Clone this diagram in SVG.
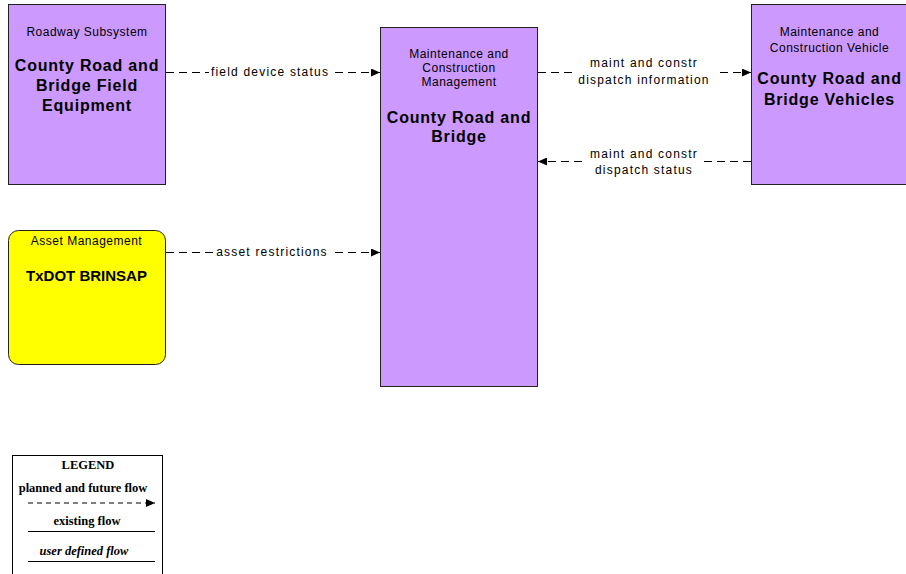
<svg xmlns="http://www.w3.org/2000/svg" width="906" height="574" viewBox="0 0 906 574">
<defs>
<marker id="arr" markerUnits="userSpaceOnUse" markerWidth="10" markerHeight="8" refX="9" refY="4" orient="auto">
<path d="M0,0 L9,4 L0,8 Z" fill="#000"/>
</marker>
<style>
.box{fill:#CC99FF;stroke:#222;stroke-width:1}
.ybox{fill:#FFFF00;stroke:#222;stroke-width:1}
.sub{font-family:"Liberation Sans",Arial,sans-serif;font-size:12px;letter-spacing:0.5px;text-anchor:middle;fill:#000}
.ttl{font-family:"Liberation Sans",Arial,sans-serif;font-size:16px;font-weight:bold;letter-spacing:0.8px;text-anchor:middle;fill:#000}
.flow{fill:none;stroke:#000;stroke-width:1;stroke-dasharray:8,5}
.lbl{font-family:"Liberation Sans",Arial,sans-serif;font-size:12px;letter-spacing:1.2px;text-anchor:middle;fill:#000}
.bg{fill:#fff}
.leg{font-family:"Liberation Serif","Times New Roman",serif;font-size:12.5px;font-weight:bold;text-anchor:middle;fill:#000}
</style>
</defs>
<rect width="906" height="574" fill="#fff"/>

<g id="connectors">
<line class="flow" x1="166" y1="72.5" x2="380" y2="72.5" marker-end="url(#arr)"/>
<rect class="bg" x="209" y="64" width="122" height="15"/>
<text class="lbl" x="270" y="76">field device status</text>

<line class="flow" x1="166" y1="252.5" x2="380" y2="252.5" marker-end="url(#arr)"/>
<rect class="bg" x="214" y="244" width="116" height="15"/>
<text class="lbl" x="272" y="256">asset restrictions</text>

<line class="flow" x1="538" y1="72.5" x2="751" y2="72.5" marker-end="url(#arr)"/>
<rect class="bg" x="575" y="57" width="140" height="31"/>
<text class="lbl" x="644" y="67">maint and constr</text>
<text class="lbl" x="644" y="84">dispatch information</text>

<line class="flow" x1="751" y1="161.5" x2="538" y2="161.5" marker-end="url(#arr)"/>
<rect class="bg" x="585" y="148" width="115" height="30"/>
<text class="lbl" x="644" y="158">maint and constr</text>
<text class="lbl" x="644" y="174">dispatch status</text>
</g>

<g id="roadway">
<rect class="box" x="8.5" y="4.5" width="157" height="180"/>
<text class="sub" x="87" y="35.5">Roadway Subsystem</text>
<text class="ttl" x="87" y="71">County Road and</text>
<text class="ttl" x="87" y="91">Bridge Field</text>
<text class="ttl" x="87" y="111">Equipment</text>
</g>

<g id="mcm">
<rect class="box" x="380.5" y="27.5" width="157" height="359"/>
<text class="sub" x="459" y="58">Maintenance and</text>
<text class="sub" x="459" y="72">Construction</text>
<text class="sub" x="459" y="86">Management</text>
<text class="ttl" x="459" y="123">County Road and</text>
<text class="ttl" x="459" y="142">Bridge</text>
</g>

<g id="vehicles">
<rect class="box" x="751.5" y="4.5" width="157" height="180"/>
<text class="sub" x="829.5" y="35.5">Maintenance and</text>
<text class="sub" x="829.5" y="51.5">Construction Vehicle</text>
<text class="ttl" x="829.5" y="84">County Road and</text>
<text class="ttl" x="829.5" y="105">Bridge Vehicles</text>
</g>

<g id="brinsap">
<rect class="ybox" x="8.5" y="230.5" width="157" height="134" rx="10" ry="10"/>
<text class="sub" x="86.5" y="244.5">Asset Management</text>
<text class="ttl" x="86.5" y="281" style="font-size:15px;letter-spacing:0">TxDOT BRINSAP</text>
</g>

<g id="legend">
<rect x="12.5" y="455.5" width="150" height="122" fill="#fff" stroke="#000" stroke-width="1"/>
<text class="leg" x="88" y="469">LEGEND</text>
<text class="leg" x="83" y="491.5">planned and future flow</text>
<line x1="28" y1="503" x2="155" y2="503" stroke="#000" stroke-width="1.2" stroke-dasharray="5,4" marker-end="url(#arr)"/>
<text class="leg" x="87" y="525">existing flow</text>
<line x1="28" y1="531.5" x2="155" y2="531.5" stroke="#000" stroke-width="1"/>
<text class="leg" x="84" y="554.5" font-style="italic">user defined flow</text>
<line x1="28" y1="561.5" x2="155" y2="561.5" stroke="#000" stroke-width="1"/>
</g>
</svg>
